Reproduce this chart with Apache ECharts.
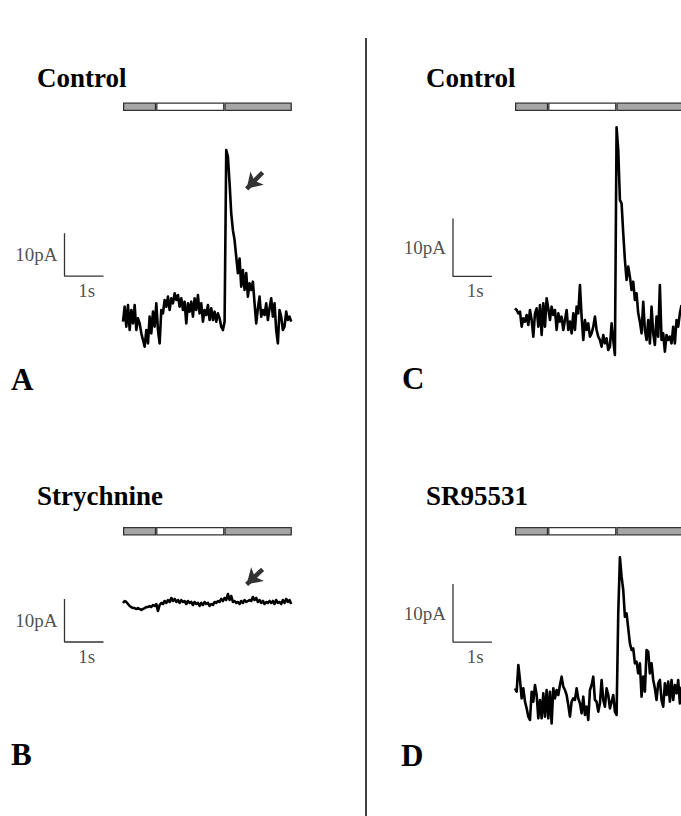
<!DOCTYPE html>
<html><head><meta charset="utf-8">
<script src="https://cdn.jsdelivr.net/npm/echarts@6/dist/echarts.min.js"></script>
<style>html,body{margin:0;padding:0;background:#fff}#c{width:681px;height:816px}</style>
</head><body><div id="c"></div>
<script>
// ---------- data ----------
const timeStep = 0.0427;                 // s between trace samples
const stimSegments = [0.85, 1.75, 1.73]; // s : dark, light, dark
const scaleTime = 1;                     // s
const scaleCurrent = 10;                 // pA
const scaleLabels = ['10pA', '1s'];
const panelTitles = ['Control', 'Strychnine', 'Control', 'SR95531'];
const panelLetters = ['A', 'B', 'C', 'D'];

const traceA = [-0.39, 3.10, -1.55, 3.49, -2.33, 2.33, -0.78, 3.49, -2.33, 0.39,
 -0.78, -3.10, -4.65, -6.20, -2.33, -5.43, 0.78, -3.10, 1.94, -1.55,
 3.88, -2.33, -5.43, 2.33, 1.55, 4.65, 3.10, 5.43, 2.33, 5.04,
 3.88, 6.20, 4.65, 5.81, 3.10, 5.04, 2.33, 4.26, -0.78, 3.88,
 1.94, 4.26, 0.78, 5.04, 2.33, 5.81, 1.55, 3.88, -0.39, 2.33,
 1.16, 3.49, 0.00, 2.71, 0.00, 1.94, -0.39, 1.55, 0.39, -1.55,
 -2.33, -0.39, 39.5, 38.0, 31.8, 24.8, 20.9, 18.6, 14.7, 10.9,
 14.3, 7.75, 11.6, 6.98, 10.9, 5.43, 8.53, 6.98, 8.91, 3.88,
 -0.78, 2.71, 5.43, 0.78, 2.33, 1.16, 3.88, 0.00, 2.71, 5.04,
 0.78, 3.88, -2.33, -5.43, 2.33, 0.78, -2.33, -1.55, 1.94, 0.00,
 0.78, -0.39];

const traceB = [0.47, 0.93, 0.70, 0.23, -0.23, -0.47, -0.70, -0.70, -0.93, -0.70,
 -0.93, -1.16, -0.93, -0.70, -0.47, -0.47, -0.23, -0.47, 0.00, -0.23,
 0.23, -1.40, 0.00, 0.47, 0.23, 0.93, 0.47, 1.16, 0.70, 1.63,
 0.93, 1.40, 0.70, 1.16, 0.47, 1.16, 0.70, 0.93, 0.23, 0.93,
 0.47, 0.70, 0.00, 0.70, 0.23, 0.47, -0.23, 0.47, 0.00, 0.70,
 0.23, 0.47, -0.23, 0.23, 0.00, 0.70, 0.47, 0.93, 0.70, 1.40,
 0.93, 1.63, 1.16, 2.56, 1.16, 2.09, 0.70, 0.93, 0.47, 0.70,
 0.23, 0.93, 0.47, 1.16, 0.70, 0.93, 1.16, 0.93, 1.86, 1.16,
 1.63, 0.70, 1.16, 0.47, 0.93, 0.23, 0.70, 0.47, 0.93, 0.47,
 0.93, 0.23, 1.16, 0.47, 0.70, 0.23, 1.16, 0.47, 1.40, 0.70,
 1.16, 0.23];

const traceC = [1.49, 1.21, 0.63, 0.92, -1.67, -0.23, -0.80, 0.34, -1.38, 1.21,
 -0.52, -3.39, 0.63, 1.49, -1.67, 2.07, -3.10, 2.36, -1.67, 3.22,
 1.49, -0.52, 1.78, 0.34, 1.21, -2.24, 0.63, -0.80, 0.06, -2.24,
 -0.52, 1.21, -2.24, -0.80, -2.82, 0.63, -2.24, 1.78, 0.63, 5.52,
 0.06, -3.97, -0.52, -2.24, -1.09, -3.39, -2.82, -1.67, 0.06, -2.24,
 -3.39, -3.97, -5.11, -3.10, -4.54, -3.68, -5.69, -5.11, -1.09, -3.97,
 -6.55, 32.70, 28.79, 20.17, 19.60, 14.43, 9.83, 6.38, 8.68, 6.95,
 4.66, 6.09, 2.93, 4.08, 0.63, -0.80, -2.82, 2.64, -2.24, -3.97,
 -0.52, -4.54, 1.78, -2.82, -4.83, 0.06, -3.39, 5.52, -3.97, -2.82,
 -5.98, -3.10, -3.97, -3.39, -4.54, -1.67, -4.54, -0.52, -1.67, 0.63,
 2.07];

const traceD = [2.53, 1.95, 6.55, 3.97, 0.80, 2.53, 0.23, -0.92, -2.36, -2.93,
 1.95, 0.23, 3.10, 1.38, -2.64, 0.52, -2.64, 1.67, -2.36, 2.24,
 -2.64, 1.95, -3.51, 2.53, 0.80, 2.24, 1.38, 3.10, 4.54, 2.82,
 2.24, 1.38, -0.34, -2.36, 0.23, 0.80, 0.52, 2.53, 0.80, -0.06,
 -1.78, 1.09, -2.07, -0.63, -2.93, 2.24, 3.10, 4.54, 0.52, 0.23,
 -1.49, -0.06, 3.97, 0.52, -0.63, 2.53, 1.38, -0.92, 0.23, 1.38,
 -1.49, -2.07, 15.46, 25.11, 21.78, 19.48, 14.89, 15.46, 12.87, 10.29,
 9.14, 9.43, 6.84, 7.13, 5.11, 6.84, 1.09, 4.54, 1.95, 9.14,
 8.85, 5.11, 6.84, 3.97, 2.53, 0.52, 3.39, 3.97, 0.52, -0.63,
 3.39, 1.38, 3.68, 0.23, 3.97, 0.52, 3.10, 1.67, 3.97, -0.06,
 2.82];

// ---------- layout (positions / styles) ----------
const PX_PER_S = 39;
const layout = [
  {trace: traceA, traceX: 123, xMin: -2, xMax: 4.5, baseY: 320, yMin: -10, yMax: 45, pxPerPA: 4.3, barTop: 102.5,
   sb: [-1.5, 10.2], arrow: [[3.58, 34.3], [3.17, 30.5]], titleX: 37, titleTop: 64.5, letterX: 11, letterTop: 363.5},
  {trace: traceB, traceX: 123, xMin: -2, xMax: 4.5, baseY: 605, yMin: -12, yMax: 12, pxPerPA: 4.3, barTop: 527,
   sb: [-1.5, -8.6], arrow: [[3.58, 8.3], [3.17, 4.8]], titleX: 37, titleTop: 482.5, letterX: 11, letterTop: 738.5},
  {trace: traceC, traceX: 515, xMin: -1.7, xMax: 4.25, baseY: 317, yMin: -10, yMax: 40, pxPerPA: 5.8, barTop: 102.5,
   sb: [-1.59, 7], arrow: null, titleX: 426, titleTop: 64.5, letterX: 402, letterTop: 362.5},
  {trace: traceD, traceX: 515, xMin: -1.7, xMax: 4.25, baseY: 703, yMin: -10, yMax: 30, pxPerPA: 5.8, barTop: 527,
   sb: [-1.59, 10.5], arrow: null, titleX: 426, titleTop: 482.5, letterX: 401, letterTop: 739.5}
];

const serif = "'Liberation Serif', 'Times New Roman', serif";
const grids = [], xAxes = [], yAxes = [], series = [], titles = [];
const stimFill = ['#a6a6a6', '#ffffff', '#a6a6a6'];

layout.forEach((p, i) => {
  const gLeft = p.traceX + p.xMin * PX_PER_S;
  const gW = (p.xMax - p.xMin) * PX_PER_S;
  const gH = (p.yMax - p.yMin) * p.pxPerPA;
  const gTop = p.baseY - p.yMax * p.pxPerPA;
  grids.push({left: gLeft, top: gTop, width: gW, height: gH, containLabel: false});
  grids.push({left: gLeft, top: p.barTop, width: gW, height: 8.5, containLabel: false});
  xAxes.push({type: 'value', gridIndex: 2 * i, min: p.xMin, max: p.xMax, show: false});
  xAxes.push({type: 'value', gridIndex: 2 * i + 1, min: p.xMin, max: p.xMax, show: false});
  yAxes.push({type: 'value', gridIndex: 2 * i, min: p.yMin, max: p.yMax, show: false});
  yAxes.push({type: 'category', gridIndex: 2 * i + 1, data: ['stim'], show: false});

  const tr = {
    type: 'line', xAxisIndex: 2 * i, yAxisIndex: 2 * i, clip: false,
    data: p.trace.map((v, k) => [k * timeStep, v]),
    showSymbol: false, symbol: 'none', smooth: false,
    lineStyle: {color: '#000', width: 2.6, join: 'round'}, z: 3, silent: true
  };
  if (p.arrow) {
    tr.markLine = {
      silent: true, symbol: ['none', 'arrow'], symbolSize: [14, 15],
      lineStyle: {color: '#333', width: 4.5, type: 'solid'}, label: {show: false},
      emphasis: {disabled: true},
      data: [[{coord: p.arrow[0]}, {coord: p.arrow[1]}]]
    };
  }
  series.push(tr);

  const [st, sv] = p.sb;
  series.push({
    type: 'line', xAxisIndex: 2 * i, yAxisIndex: 2 * i,
    data: [[st, sv + scaleCurrent], [st, sv], [st + scaleTime, sv]],
    showSymbol: false, symbol: 'none', lineStyle: {color: '#333', width: 1.3}, silent: true
  });
  const lblStyle = {show: true, fontFamily: serif, fontSize: 19, color: '#222',
    textBorderWidth: 0, textBorderColor: 'transparent'};
  series.push({
    type: 'scatter', xAxisIndex: 2 * i, yAxisIndex: 2 * i, symbolSize: 0, silent: true,
    itemStyle: {color: '#222'},
    data: [
      {value: [st, sv + scaleCurrent / 2], label: Object.assign({}, lblStyle, {formatter: scaleLabels[0], position: 'left', distance: 7})},
      {value: [st + 0.57 * scaleTime, sv], label: Object.assign({}, lblStyle, {formatter: scaleLabels[1], position: 'bottom', distance: 5})}
    ]
  });

  stimSegments.forEach((d, k) => {
    series.push({
      type: 'bar', xAxisIndex: 2 * i + 1, yAxisIndex: 2 * i + 1, stack: 'stim' + i,
      data: [d], barWidth: 8.5, silent: true, clip: false,
      itemStyle: {color: stimFill[k], borderColor: '#333', borderWidth: 1.3}
    });
  });

  titles.push({text: panelTitles[i], left: p.titleX, top: p.titleTop, padding: 0,
    textStyle: {fontFamily: serif, fontWeight: 'bold', fontSize: 27, color: '#000'}});
  titles.push({text: panelLetters[i], left: p.letterX, top: p.letterTop, padding: 0,
    textStyle: {fontFamily: serif, fontWeight: 'bold', fontSize: 31, color: '#000'}});
});

const chart = echarts.init(document.getElementById('c'), null, {renderer: 'svg'});
chart.setOption({
  animation: false,
  backgroundColor: '#fff',
  title: titles,
  grid: grids, xAxis: xAxes, yAxis: yAxes, series: series,
  graphic: [{type: 'line', shape: {x1: 366, y1: 38, x2: 366, y2: 816}, style: {stroke: '#000', lineWidth: 1.5}, silent: true}]
});
</script></body></html>
